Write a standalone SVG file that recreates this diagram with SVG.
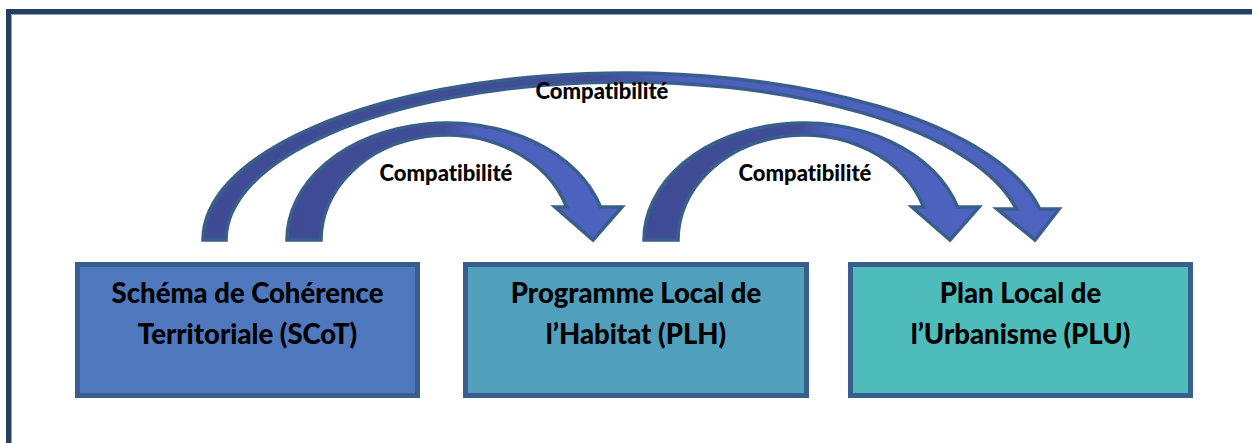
<svg xmlns="http://www.w3.org/2000/svg" width="1252" height="443" viewBox="0 0 1252 443">
  <defs>
    <linearGradient id="arrowFill" x1="0" y1="0" x2="1" y2="0">
      <stop offset="0" stop-color="#3f4c95"/>
      <stop offset="0.46" stop-color="#404d97"/>
      <stop offset="0.56" stop-color="#4c60bd"/>
      <stop offset="1" stop-color="#4e62bf"/>
    </linearGradient>
    <style>
      .arrow { fill: url(#arrowFill); stroke: #3a5e8c; stroke-width: 3.5; stroke-linejoin: miter; }
      .box { stroke: #3a5e8c; stroke-width: 5; }
      .boxtext { font-family: Lato, "Liberation Sans", sans-serif; font-weight: 900; font-size: 27.5px; fill: #000; text-anchor: middle; font-variant-ligatures: none; font-feature-settings: "liga" 0; }
      .label { font-family: Lato, "Liberation Sans", sans-serif; font-weight: 900; font-size: 22px; fill: #000; text-anchor: middle; font-variant-ligatures: none; font-feature-settings: "liga" 0; }
    </style>
  </defs>
  <rect x="0" y="0" width="1252" height="443" fill="#ffffff"/>
  <g id="frame">
    <path d="M 8.5 443 V 11.5 H 1252" fill="none" stroke="#243f60" stroke-width="5"/>
    <path d="M 11.5 443 V 14.5 H 1252" fill="none" stroke="#8fa3bf" stroke-width="1"/>
  </g>
  <g id="connectors">
    <path id="arrow-scot-plu" class="arrow" d="M 203 240 A 422 167 0 0 1 1039.7 209 L 1059 209 L 1035 240 L 997 209 L 1016.3 209 A 399 158 0 0 0 226 240 Z"/>
    <path id="arrow-scot-plh" class="arrow" d="M 287 240 A 160 117 0 0 1 600.5 207 L 622 207 L 593 240 L 555 207 L 566.6 207 A 126 105 0 0 0 321 240 Z"/>
    <path id="arrow-plh-plu" class="arrow" d="M 644 240 A 160 117 0 0 1 957.5 207 L 979 207 L 950 240 L 912 207 L 923.6 207 A 126 105 0 0 0 678 240 Z"/>
    <text class="label" x="602" y="99">Compatibilité</text>
    <text class="label" x="446" y="181">Compatibilité</text>
    <text class="label" x="805" y="181">Compatibilité</text>
  </g>
  <g id="node-scot">
    <rect class="box" x="77.5" y="264.5" width="340" height="131" fill="#4f78bf"/>
    <text class="boxtext" x="247.5" y="303">Schéma de Cohérence</text>
    <text class="boxtext" x="247.5" y="344">Territoriale (SCoT)</text>
  </g>
  <g id="node-plh">
    <rect class="box" x="465.5" y="264.5" width="341" height="131" fill="#4f9fbd"/>
    <text class="boxtext" x="636" y="303">Programme Local de</text>
    <text class="boxtext" x="636" y="344">l’Habitat (PLH)</text>
  </g>
  <g id="node-plu">
    <rect class="box" x="850.5" y="264.5" width="340" height="131" fill="#4fbcbc"/>
    <text class="boxtext" x="1020.5" y="303">Plan Local de</text>
    <text class="boxtext" x="1020.5" y="344">l’Urbanisme (PLU)</text>
  </g>
</svg>
